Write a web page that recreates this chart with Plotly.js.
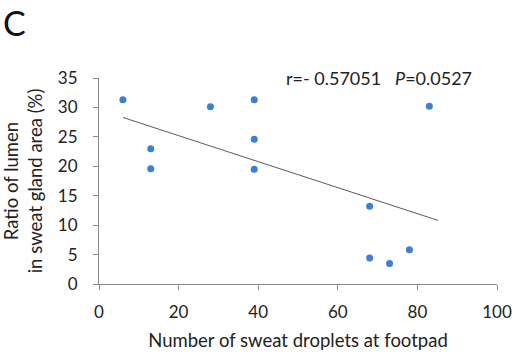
<!DOCTYPE html>
<html>
<head>
<meta charset="utf-8">
<script src="https://cdn.plot.ly/plotly-3.0.1.min.js"></script>
<style>html,body{margin:0;padding:0;background:#fff;}#chart{width:514px;height:361px;}</style>
</head>
<body>
<div id="chart"></div>
<script>
const dropletCounts = [6, 13, 13, 28, 39, 39, 39, 68, 68, 73, 78, 83];
const lumenRatios = [31.3, 23.0, 19.6, 30.1, 31.3, 24.6, 19.5, 13.2, 4.4, 3.5, 5.8, 30.2];
const trendX = [6, 85.2];
const trendY = [28.3, 10.8];
const xTicks = [0, 20, 40, 60, 80, 100];
const yTicks = [0, 5, 10, 15, 20, 25, 30, 35];

const font = "Lato, 'Open Sans', sans-serif";
const axisColor = '#8a8a8a';
const txt = '#222222';

const data = [
  {
    x: trendX, y: trendY, type: 'scatter', mode: 'lines',
    line: {color: '#5a5a5a', width: 1}, hoverinfo: 'skip', showlegend: false
  },
  {
    x: dropletCounts, y: lumenRatios, type: 'scatter', mode: 'markers',
    marker: {color: '#3b7fd6', size: 7}, showlegend: false
  }
];

const layout = {
  width: 514, height: 361,
  margin: {l: 99, r: 17, t: 78, b: 77},
  paper_bgcolor: '#ffffff', plot_bgcolor: '#ffffff',
  font: {family: font, size: 17, color: txt},
  xaxis: {
    range: [0, 100], tickvals: xTicks, ticktext: xTicks.map(String),
    showgrid: false, zeroline: false, showline: true, linecolor: axisColor, linewidth: 1,
    ticks: 'outside', ticklen: 5, tickcolor: axisColor, tickwidth: 1,
    ticklabelstandoff: 8,
    tickfont: {family: font, size: 17, color: txt},
    title: {text: 'Number of sweat droplets at footpad', font: {family: font, size: 18.5, color: txt}, standoff: 12}
  },
  yaxis: {
    range: [0, 35], tickvals: yTicks, ticktext: yTicks.map(String),
    showgrid: false, zeroline: false, showline: true, linecolor: axisColor, linewidth: 1,
    ticks: 'outside', ticklen: 5, tickcolor: axisColor, tickwidth: 1,
    ticklabelstandoff: 12,
    tickfont: {family: font, size: 17, color: txt},
    title: {text: 'Ratio of lumen<br>in sweat gland area (%)', font: {family: font, size: 18.5, color: txt}, standoff: 14}
  },
  annotations: [
    {
      xref: 'paper', yref: 'paper', x: -0.245, y: 1.0, xanchor: 'left', yanchor: 'top',
      text: 'C', showarrow: false, font: {family: font, size: 34, color: '#111111'},
      yshift: 78
    },
    {
      xref: 'x', yref: 'y', x: 70.4, y: 35, xanchor: 'center', yanchor: 'middle',
      text: 'r=- 0.57051&nbsp;&nbsp;&nbsp;<i>P</i>=0.0527', showarrow: false,
      font: {family: font, size: 18, color: txt}
    }
  ]
};

Plotly.newPlot('chart', data, layout, {displayModeBar: false, staticPlot: true});
</script>
</body>
</html>
